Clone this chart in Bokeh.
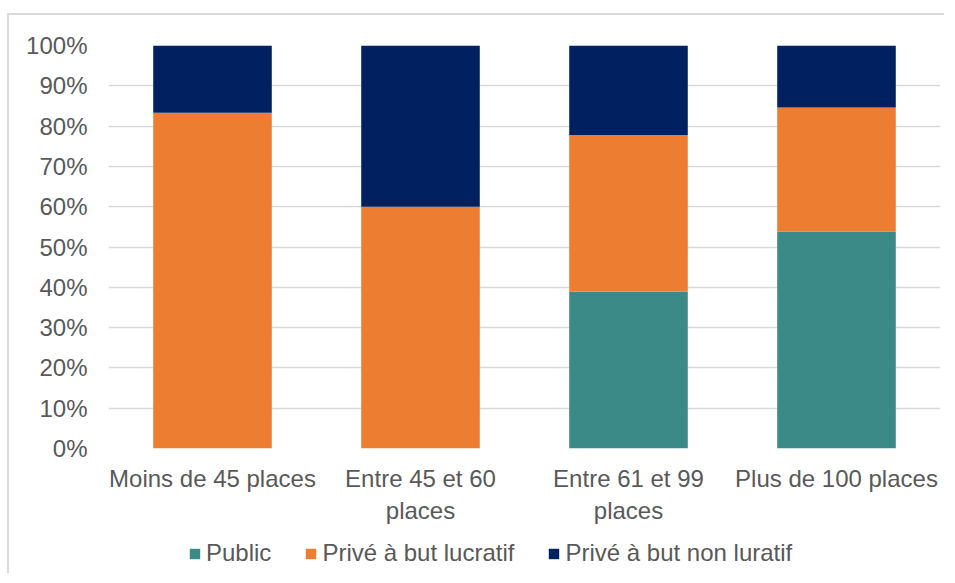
from bokeh.plotting import figure
from bokeh.layouts import column, row
from bokeh.models import (Legend, LegendItem, FactorRange, NumeralTickFormatter, FixedTicker,
                          Range1d, Spacer)
from bokeh.embed import file_html
from bokeh.resources import INLINE

categories = ["Moins de 45 places", "Entre 45 et 60\nplaces", "Entre 61 et 99\nplaces", "Plus de 100 places"]
public = [0.0, 0.0, 0.389, 0.538]
prive_lucratif = [0.833, 0.600, 0.389, 0.308]
prive_non_lucratif = [0.167, 0.400, 0.222, 0.154]
series_names = ["Public", "Privé à but lucratif", "Privé à but non luratif"]
series_keys = ["public", "lucratif", "non_lucratif"]
colors = ["#3C8A87", "#ED7D31", "#002060"]
y_ticks = [0, 0.1, 0.2, 0.3, 0.4, 0.5, 0.6, 0.7, 0.8, 0.9, 1.0]

FONT = "Liberation Sans"
TXT = "#595959"
FS = "24px"
BORDER = "2px solid #d9d9d9"

data = dict(cat=categories, public=public, lucratif=prive_lucratif, non_lucratif=prive_non_lucratif)

# main chart
p = figure(x_range=FactorRange(*categories, range_padding=0), y_range=Range1d(0, 1),
           width=937, height=511, output_backend="svg", toolbar_location=None,
           min_border_left=99, min_border_right=6, min_border_top=30, min_border_bottom=73)
p.styles = {"border-top": BORDER, "border-left": BORDER}

p.vbar_stack(series_keys, x="cat", width=0.57, source=data, color=colors, line_width=0)

p.outline_line_color = None
p.xgrid.grid_line_color = None
p.ygrid.grid_line_color = "#d9d9d9"
p.ygrid.grid_line_width = 1.3
p.ygrid.ticker = FixedTicker(ticks=y_ticks)

p.yaxis.ticker = FixedTicker(ticks=y_ticks)
p.yaxis.formatter = NumeralTickFormatter(format="0%")
for ax in (p.xaxis, p.yaxis):
    ax.axis_line_color = None
    ax.major_tick_line_color = None
    ax.minor_tick_line_color = None
    ax.major_tick_out = 0
    ax.major_label_text_font = FONT
    ax.major_label_text_font_size = FS
    ax.major_label_text_color = TXT
p.yaxis.major_label_standoff = 21
p.xaxis.major_label_standoff = 16

# legend strip (bars drawn out of view so only the legend shows)
lg = figure(x_range=FactorRange(*categories), y_range=Range1d(2, 3),
            width=937, height=49, output_backend="svg", toolbar_location=None,
            x_axis_type=None, y_axis_type=None,
            min_border_left=0, min_border_right=0, min_border_top=0, min_border_bottom=0)
lg.styles = {"border-left": BORDER}
lg.outline_line_color = None
lg.grid.grid_line_color = None
rs = lg.vbar_stack(series_keys, x="cat", width=0.57, source=data, color=colors, line_width=0)
items = [LegendItem(label=n, renderers=[r]) for n, r in zip(series_names, rs)]
legend = Legend(items=items, orientation="horizontal", location=(80, 6),
                label_text_font=FONT, label_text_font_size=FS, label_text_color=TXT,
                glyph_width=13, glyph_height=13, label_standoff=5, spacing=33,
                padding=0, margin=0, border_line_color=None, background_fill_alpha=0,
                label_height=20)
lg.add_layout(legend, "center")

root = row(Spacer(width=7, height=10), column(Spacer(width=937, height=13), p, lg))
open("out.html", "w").write(file_html(root, INLINE))
